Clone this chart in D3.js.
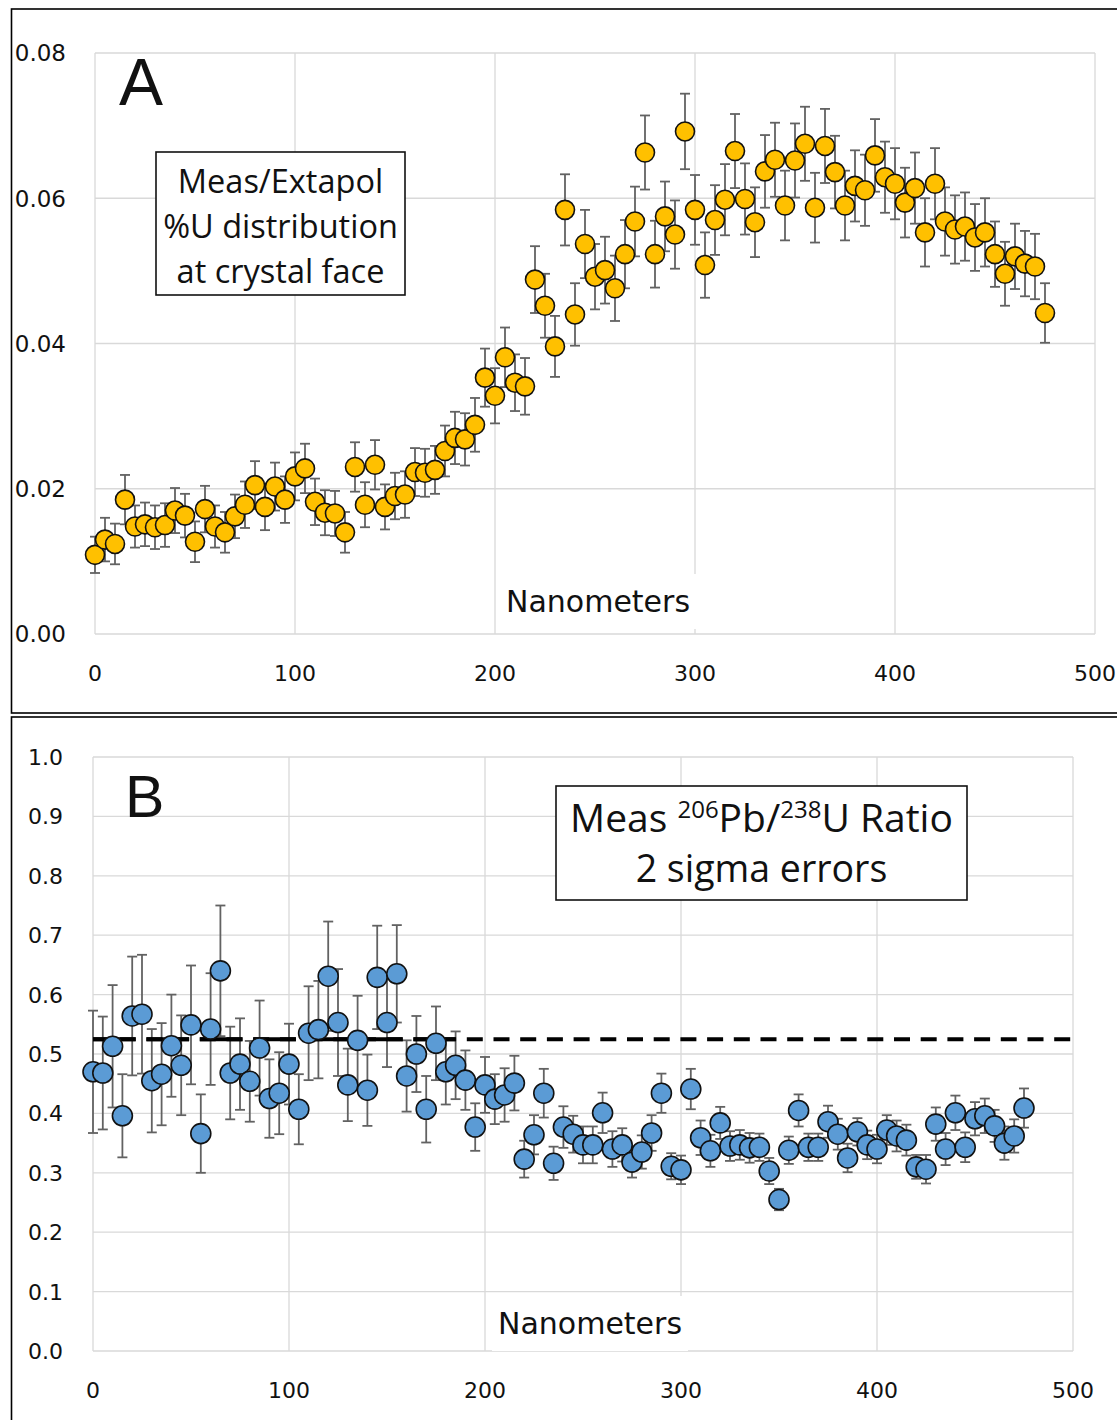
<!DOCTYPE html>
<html>
<head>
<meta charset="utf-8">
<script src="https://cdnjs.cloudflare.com/ajax/libs/d3/7.8.5/d3.min.js"></script>
<style>
  html, body { margin: 0; padding: 0; background: #fff; }
  svg { display: block; }
</style>
</head>
<body>
<svg id="chart" width="1117" height="1420"></svg>
<script>
// ---------- DATA ----------
const nanometers = [0,5,10,15,20,25,30,35,40,45,50,55,60,65,70,75,80,85,90,95,
  100,105,110,115,120,125,130,135,140,145,150,155,160,165,170,175,180,185,190,195,
  200,205,210,215,220,225,230,235,240,245,250,255,260,265,270,275,280,285,290,295,
  300,305,310,315,320,325,330,335,340,345,350,355,360,365,370,375,380,385,390,395,
  400,405,410,415,420,425,430,435,440,445,450,455,460,465,470,475];

const uDistribution = [0.0109,0.0130,0.0124,0.0185,0.0148,0.0151,0.0147,0.0150,0.0170,0.0163,
  0.0127,0.0172,0.0148,0.0140,0.0162,0.0178,0.0205,0.0175,0.0203,0.0185,
  0.0217,0.0228,0.0182,0.0167,0.0166,0.0140,0.0230,0.0178,0.0233,0.0175,
  0.0190,0.0192,0.0223,0.0222,0.0226,0.0252,0.0270,0.0268,0.0288,0.0353,
  0.0328,0.0381,0.0346,0.0341,0.0488,0.0452,0.0396,0.0584,0.0440,0.0537,
  0.0492,0.0501,0.0476,0.0523,0.0568,0.0663,0.0523,0.0575,0.0550,0.0692,
  0.0584,0.0508,0.0570,0.0598,0.0665,0.0599,0.0567,0.0637,0.0653,0.0590,
  0.0652,0.0675,0.0587,0.0672,0.0636,0.0590,0.0617,0.0611,0.0659,0.0629,
  0.0620,0.0594,0.0614,0.0553,0.0620,0.0568,0.0557,0.0561,0.0546,0.0553,
  0.0523,0.0496,0.0520,0.0510,0.0506,0.0442];

const uError = [0.0025,0.0030,0.0028,0.0034,0.0029,0.0030,0.0030,0.0030,0.0031,0.0030,
  0.0028,0.0032,0.0029,0.0028,0.0030,0.0032,0.0033,0.0032,0.0033,0.0032,
  0.0033,0.0034,0.0032,0.0031,0.0031,0.0028,0.0034,0.0031,0.0034,0.0031,
  0.0032,0.0032,0.0033,0.0033,0.0033,0.0035,0.0036,0.0036,0.0037,0.0040,
  0.0038,0.0041,0.0039,0.0039,0.0046,0.0044,0.0042,0.0049,0.0043,0.0047,
  0.0045,0.0046,0.0045,0.0047,0.0048,0.0051,0.0046,0.0048,0.0047,0.0052,
  0.0048,0.0045,0.0048,0.0049,0.0051,0.0049,0.0048,0.0050,0.0051,0.0048,
  0.0051,0.0051,0.0048,0.0051,0.0050,0.0048,0.0049,0.0049,0.0050,0.0049,
  0.0049,0.0048,0.0049,0.0047,0.0049,0.0047,0.0047,0.0047,0.0046,0.0047,
  0.0045,0.0044,0.0045,0.0045,0.0045,0.0041];

const pbURatio = [0.470,0.468,0.513,0.396,0.564,0.567,0.455,0.466,0.514,0.481,
  0.549,0.366,0.542,0.640,0.468,0.483,0.454,0.510,0.425,0.434,
  0.483,0.407,0.535,0.541,0.631,0.553,0.448,0.523,0.439,0.629,
  0.553,0.635,0.463,0.500,0.407,0.518,0.470,0.481,0.456,0.377,
  0.448,0.424,0.431,0.451,0.323,0.364,0.434,0.316,0.377,0.365,
  0.347,0.347,0.401,0.340,0.347,0.318,0.335,0.367,0.434,0.311,
  0.305,0.441,0.359,0.337,0.384,0.345,0.347,0.342,0.343,0.303,
  0.255,0.338,0.405,0.343,0.343,0.386,0.365,0.325,0.369,0.347,
  0.340,0.372,0.362,0.355,0.310,0.306,0.382,0.340,0.401,0.343,
  0.391,0.396,0.379,0.350,0.362,0.409];

const pbUError = [0.103,0.095,0.103,0.070,0.100,0.100,0.087,0.086,0.086,0.084,
  0.100,0.066,0.094,0.110,0.078,0.077,0.068,0.080,0.066,0.069,
  0.068,0.059,0.079,0.082,0.092,0.090,0.061,0.075,0.060,0.087,
  0.075,0.082,0.060,0.064,0.056,0.062,0.055,0.057,0.050,0.040,
  0.047,0.042,0.045,0.046,0.031,0.033,0.041,0.028,0.035,0.031,
  0.031,0.031,0.034,0.030,0.028,0.026,0.028,0.030,0.033,0.022,
  0.024,0.034,0.029,0.027,0.027,0.025,0.025,0.025,0.023,0.022,
  0.018,0.023,0.027,0.023,0.023,0.027,0.026,0.024,0.023,0.024,
  0.024,0.025,0.026,0.026,0.020,0.024,0.028,0.027,0.029,0.025,
  0.028,0.029,0.027,0.028,0.028,0.033];

const xTickValues = [0,100,200,300,400,500];
const yTicksA = [0.00,0.02,0.04,0.06,0.08];
const yTicksB = [0.0,0.1,0.2,0.3,0.4,0.5,0.6,0.7,0.8,0.9,1.0];
const referenceRatio = 0.525;
const referenceSpan = [0, 500];
const earlyReferenceSpan = [0, 185];
const xAxisTitle = "Nanometers";
const boxTextA = ["Meas/Extapol", "%U distribution", "at crystal face"];

// ---------- DRAW ----------
const svg = d3.select("#chart");
const GRID = "#d9d9d9";
const ERR = "#626262";

// panel frames
svg.append("rect").attr("x", 11.5).attr("y", 9).attr("width", 1300).attr("height", 704)
  .attr("fill", "none").attr("stroke", "#000").attr("stroke-width", 1.6);
svg.append("rect").attr("x", 11.5).attr("y", 717).attr("width", 1300).attr("height", 900)
  .attr("fill", "none").attr("stroke", "#000").attr("stroke-width", 1.6);

function panel(opts) {
  const g = svg.append("g");
  const x = d3.scaleLinear().domain([0, 500]).range(opts.xRange);
  const y = d3.scaleLinear().domain(opts.yDomain).range(opts.yRange);

  g.append("g").selectAll("line").data(opts.yTicks).join("line")
    .attr("x1", x(0)).attr("x2", x(500))
    .attr("y1", d => y(d)).attr("y2", d => y(d))
    .attr("stroke", GRID).attr("stroke-width", 1.3);
  g.append("g").selectAll("line").data(xTickValues).join("line")
    .attr("x1", d => x(d)).attr("x2", d => x(d))
    .attr("y1", y(opts.yDomain[0])).attr("y2", y(opts.yDomain[1]))
    .attr("stroke", GRID).attr("stroke-width", 1.3);

  g.append("g").selectAll("text").data(opts.yTicks).join("text")
    .attr("x", opts.yLabelX).attr("y", d => y(d)).attr("dy", "0.36em")
    .attr("text-anchor", "end")
    .attr("font-family", "DejaVu Sans").attr("font-size", opts.tickSize)
    .attr("fill", "#111")
    .text(d => d3.format(opts.fmt)(d));
  g.append("g").selectAll("text").data(xTickValues).join("text")
    .attr("x", d => x(d)).attr("y", opts.xLabelY)
    .attr("text-anchor", "middle")
    .attr("font-family", "DejaVu Sans").attr("font-size", 22)
    .attr("fill", "#111")
    .text(d => d);

  const tg = g.append("g");
  const bg = tg.append("rect").attr("fill", "#fff");
  const t = tg.append("text").attr("x", opts.titleX).attr("y", opts.titleY)
    .attr("text-anchor", "middle").attr("font-family", "DejaVu Sans")
    .attr("font-size", 30).attr("fill", "#111").text(xAxisTitle);
  const bb = t.node().getBBox();
  bg.attr("x", bb.x - 6).attr("y", bb.y - 10).attr("width", bb.width + 12).attr("height", bb.height + 20);

  return {g, x, y};
}

function errorBars(P, vals, errs) {
  const eg = P.g.append("g").attr("stroke", ERR).attr("stroke-width", 1.8);
  nanometers.forEach((n, i) => {
    const cx = P.x(n), lo = P.y(vals[i] - errs[i]), hi = P.y(vals[i] + errs[i]);
    eg.append("line").attr("x1", cx).attr("x2", cx).attr("y1", lo).attr("y2", hi);
    eg.append("line").attr("x1", cx - 5).attr("x2", cx + 5).attr("y1", lo).attr("y2", lo);
    eg.append("line").attr("x1", cx - 5).attr("x2", cx + 5).attr("y1", hi).attr("y2", hi);
  });
}

// ---- Panel A ----
const A = panel({xRange: [95, 1095], yDomain: [0, 0.08], yRange: [634, 53], yTicks: yTicksA,
  fmt: ".2f", yLabelX: 66, tickSize: 23, xLabelY: 681, titleX: 598, titleY: 612});
errorBars(A, uDistribution, uError);
A.g.append("g").selectAll("circle").data(nanometers).join("circle")
  .attr("cx", d => A.x(d)).attr("cy", (d, i) => A.y(uDistribution[i])).attr("r", 9.5)
  .attr("fill", "#FFC000").attr("stroke", "#111").attr("stroke-width", 1.6);

svg.append("text").attr("x", 119).attr("y", 105).attr("font-family", "Liberation Sans")
  .attr("font-size", 66).attr("fill", "#111").text("A");
svg.append("rect").attr("x", 156).attr("y", 152).attr("width", 249).attr("height", 143)
  .attr("fill", "#fff").attr("stroke", "#111").attr("stroke-width", 1.6);
svg.append("g").selectAll("text").data(boxTextA).join("text")
  .attr("x", 280.5).attr("y", (d, i) => 193 + i * 45)
  .attr("text-anchor", "middle").attr("font-family", "Open Sans").attr("font-size", 32.5)
  .attr("fill", "#111").text(d => d);

// ---- Panel B ----
const B = panel({xRange: [93, 1073], yDomain: [0, 1], yRange: [1351, 757], yTicks: yTicksB,
  fmt: ".1f", yLabelX: 63, tickSize: 22, xLabelY: 1398, titleX: 590, titleY: 1334});
errorBars(B, pbURatio, pbUError);

B.g.append("line")
  .attr("x1", B.x(referenceSpan[0])).attr("x2", B.x(referenceSpan[1]))
  .attr("y1", B.y(referenceRatio)).attr("y2", B.y(referenceRatio))
  .attr("stroke", "#000").attr("stroke-width", 4).attr("stroke-dasharray", "16,10.7");
B.g.append("line")
  .attr("x1", B.x(earlyReferenceSpan[0])).attr("x2", B.x(earlyReferenceSpan[1]))
  .attr("y1", B.y(referenceRatio)).attr("y2", B.y(referenceRatio))
  .attr("stroke", "#000").attr("stroke-width", 4).attr("stroke-dasharray", "42.7,10.7");

B.g.append("g").selectAll("circle").data(nanometers).join("circle")
  .attr("cx", d => B.x(d)).attr("cy", (d, i) => B.y(pbURatio[i])).attr("r", 10)
  .attr("fill", "#5B9BD5").attr("stroke", "#111").attr("stroke-width", 1.6);

svg.append("text").attr("x", 125).attr("y", 817).attr("font-family", "Liberation Sans")
  .attr("font-size", 59).attr("fill", "#111").text("B");

svg.append("rect").attr("x", 556).attr("y", 786).attr("width", 411).attr("height", 114)
  .attr("fill", "#fff").attr("stroke", "#111").attr("stroke-width", 1.6);
const t1 = svg.append("text").attr("x", 761.5).attr("y", 832).attr("text-anchor", "middle")
  .attr("font-family", "Open Sans").attr("font-size", 39).attr("fill", "#111");
t1.append("tspan").text("Meas ");
t1.append("tspan").attr("font-size", 24).attr("dy", -14).text("206");
t1.append("tspan").attr("dy", 14).text("Pb/");
t1.append("tspan").attr("font-size", 24).attr("dy", -14).text("238");
t1.append("tspan").attr("dy", 14).text("U Ratio");
svg.append("text").attr("x", 761.5).attr("y", 882).attr("text-anchor", "middle")
  .attr("font-family", "Open Sans").attr("font-size", 37.5).attr("fill", "#111")
  .text("2 sigma errors");
</script>
</body>
</html>
